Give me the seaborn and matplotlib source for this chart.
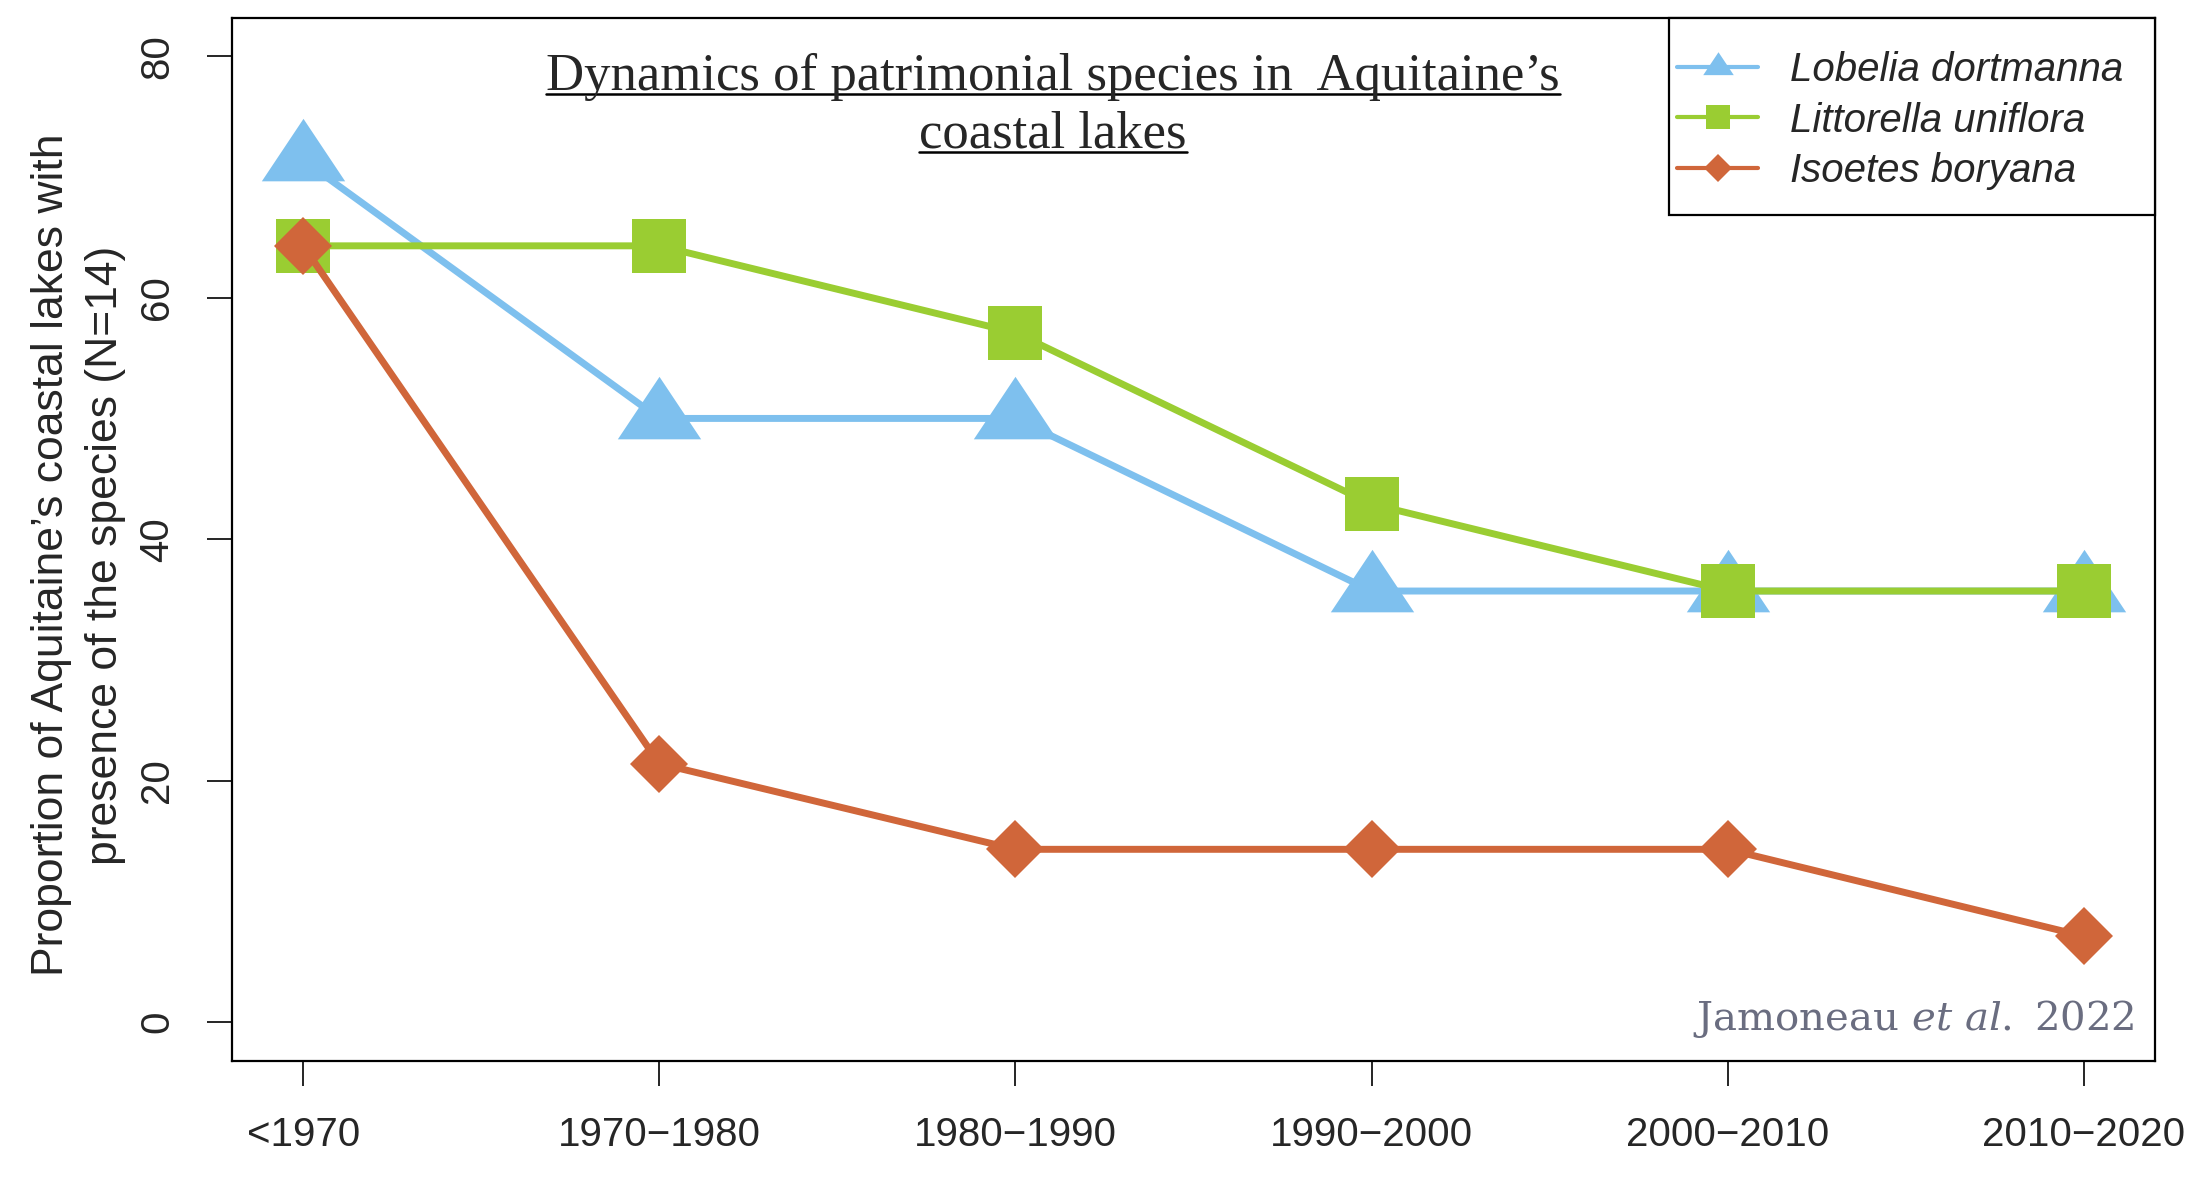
import matplotlib
matplotlib.use("Agg")
import pandas as pd
import matplotlib.pyplot as plt
import seaborn as sns
from matplotlib.lines import Line2D
from matplotlib.patches import Rectangle

# values (share of the 14 lakes, %)
periods = ["<1970", "1970−1980", "1980−1990", "1990−2000", "2000−2010", "2010−2020"]
lobelia = [71.4, 50.0, 50.0, 35.7, 35.7, 35.7]
littorella = [64.3, 64.3, 57.1, 42.9, 35.7, 35.7]
isoetes = [64.3, 21.4, 14.3, 14.3, 14.3, 7.1]
species = ["Lobelia dortmanna", "Littorella uniflora", "Isoetes boryana"]

colors = ["#7EC0EE", "#9ACD32", "#D0663A"]
tri = [(-1, -0.5), (1, -0.5), (0, 1.0)]
markers = [tri, "s", "D"]
sizes = [60, 39, 30]
leg_sizes = [22, 17, 14]

df = pd.DataFrame({
    "period": periods * 3,
    "value": lobelia + littorella + isoetes,
    "species": [s for s in species for _ in periods],
})

sns.set_style("white")
plt.rcParams["font.family"] = ["Liberation Sans", "DejaVu Sans"]
plt.rcParams["mathtext.fontset"] = "dejavuserif"

fig = plt.figure(figsize=(21.88, 11.81), dpi=100)
ax = fig.add_axes([0.106, 0.102, 0.879, 0.883])

for sp, c, m, ms in zip(species, colors, markers, sizes):
    sns.lineplot(data=df[df["species"] == sp], x="period", y="value", color=c,
                 marker=m, markersize=ms, markeredgewidth=0, linewidth=5,
                 sort=False, legend=False, ax=ax)

ax.set_xlim(-0.2, 5.2)
ax.set_ylim(-3.2, 83.2)
ax.set_yticks([0, 20, 40, 60, 80])
ax.set_xlabel("")
ax.set_ylabel("")
for s in ax.spines.values():
    s.set_color("black")
    s.set_linewidth(1.6)
ax.tick_params(axis="both", direction="out", length=18, width=1.2, color="black",
               labelsize=29, pad=22, bottom=True, left=True)
plt.setp(ax.get_yticklabels(), rotation=90, va="center")

fig.text(0.0359, 1 - 555 / 1181,
         "Proportion of Aquitaine’s coastal lakes with\npresence of the species (N=14)",
         rotation=90, ha="center", va="center", fontsize=32, linespacing=1.4)

# legend (R-style box: tight at the sides, roomier top and bottom)
handles = [Line2D([], [], color=c, marker=m, markersize=ms, markeredgewidth=0, linewidth=3)
           for c, m, ms in zip(colors, markers, leg_sizes)]
leg = ax.legend(handles, species, loc="upper left", bbox_to_anchor=(0.7516, 0.968),
                borderaxespad=0, borderpad=0, frameon=False, handlelength=2.0,
                prop={"style": "italic", "size": 29}, labelspacing=0.31,
                handletextpad=0.8)
leg.set_zorder(6)
ax.add_patch(Rectangle((0.7474, 0.811), 1 - 0.7474, 1 - 0.811, transform=ax.transAxes,
                       facecolor="white", edgecolor="black", linewidth=1.6, zorder=5,
                       clip_on=False))

# underlined title
title_lines = ["Dynamics of patrimonial species in  Aquitaine’s", "coastal lakes"]
title_y = [1 - 77 / 1181, 1 - 135 / 1181]
texts = [fig.text(1053 / 2188, y, t, ha="center", va="center", fontsize=38,
                  family="Liberation Serif") for t, y in zip(title_lines, title_y)]

fig.text(2135 / 2188, 1 - 1019 / 1181, r"Jamoneau $\it{et\ al.}$ 2022", ha="right",
         va="center", fontsize=29, color="#6A6D80", family="DejaVu Serif")

fig.canvas.draw()
r = fig.canvas.get_renderer()
for t in texts:
    bb = t.get_window_extent(r)
    yl = bb.y0 + 7
    fig.add_artist(Line2D([bb.x0 / 2188, bb.x1 / 2188], [yl / 1181, yl / 1181],
                          transform=fig.transFigure, color="black", linewidth=1.8))

fig.savefig("out.png", dpi=100)
